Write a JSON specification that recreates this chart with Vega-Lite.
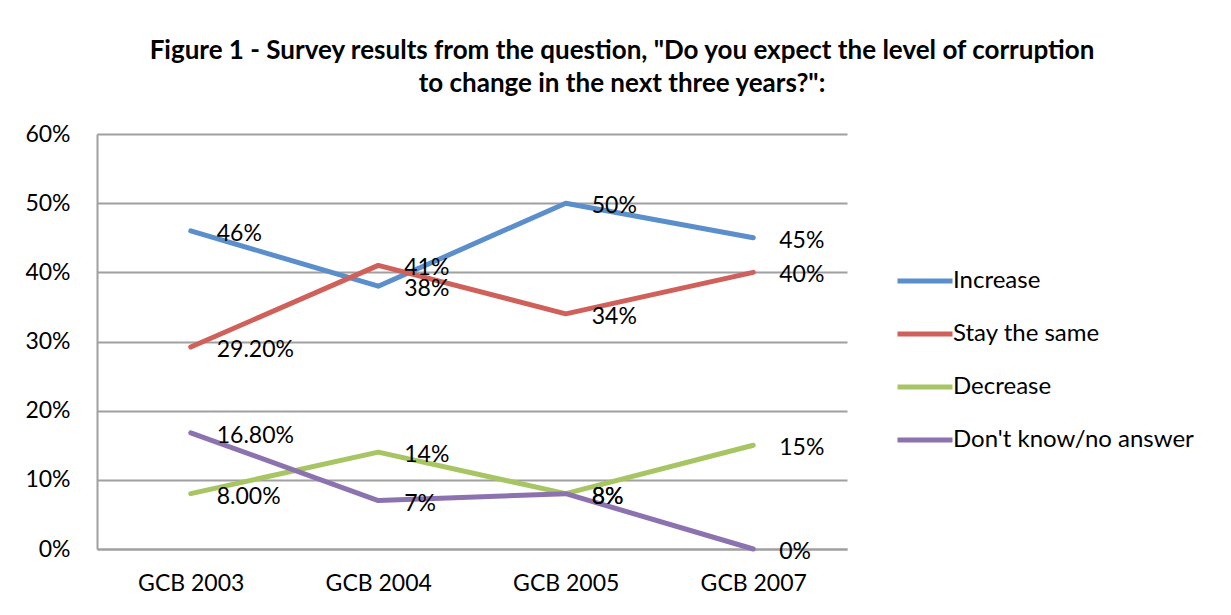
{
  "$schema": "https://vega.github.io/schema/vega-lite/v6.json",
  "width": 750,
  "height": 415,
  "autosize": {"type": "none"},
  "padding": {"left": 97, "top": 134, "right": 384, "bottom": 66},
  "background": "white",
  "title": {
    "text": ["Figure 1 - Survey results from the question, \"Do you expect the level of corruption", "to change in the next three years?\":"],
    "font": "Lato",
    "fontSize": 26,
    "fontWeight": "bold",
    "color": "black",
    "anchor": "middle",
    "frame": "group",
    "dx": 150,
    "offset": 26,
    "lineHeight": 33
  },
  "data": {
    "values": [
      {"series": "Increase", "year": "GCB 2003", "value": 0.46, "label": "46%"},
      {"series": "Increase", "year": "GCB 2004", "value": 0.38, "label": "38%"},
      {"series": "Increase", "year": "GCB 2005", "value": 0.50, "label": "50%"},
      {"series": "Increase", "year": "GCB 2007", "value": 0.45, "label": "45%"},
      {"series": "Stay the same", "year": "GCB 2003", "value": 0.292, "label": "29.20%"},
      {"series": "Stay the same", "year": "GCB 2004", "value": 0.41, "label": "41%"},
      {"series": "Stay the same", "year": "GCB 2005", "value": 0.34, "label": "34%"},
      {"series": "Stay the same", "year": "GCB 2007", "value": 0.40, "label": "40%"},
      {"series": "Decrease", "year": "GCB 2003", "value": 0.08, "label": "8.00%"},
      {"series": "Decrease", "year": "GCB 2004", "value": 0.14, "label": "14%"},
      {"series": "Decrease", "year": "GCB 2005", "value": 0.08, "label": "8%"},
      {"series": "Decrease", "year": "GCB 2007", "value": 0.15, "label": "15%"},
      {"series": "Don't know/no answer", "year": "GCB 2003", "value": 0.168, "label": "16.80%"},
      {"series": "Don't know/no answer", "year": "GCB 2004", "value": 0.07, "label": "7%"},
      {"series": "Don't know/no answer", "year": "GCB 2005", "value": 0.08, "label": "8%"},
      {"series": "Don't know/no answer", "year": "GCB 2007", "value": 0.0, "label": "0%"}
    ]
  },
  "encoding": {
    "x": {
      "field": "year",
      "type": "nominal",
      "sort": null,
      "scale": {"type": "point", "padding": 0.5},
      "axis": {
        "title": null,
        "labelAngle": 0,
        "labelFont": "Lato",
        "labelFontSize": 23,
        "labelColor": "black",
        "labelPadding": 23,
        "ticks": false,
        "domainColor": "#a0a0a0",
        "domainWidth": 2,
        "grid": false
      }
    },
    "y": {
      "field": "value",
      "type": "quantitative",
      "scale": {"domain": [0, 0.6], "nice": false},
      "axis": {
        "title": null,
        "values": [0, 0.1, 0.2, 0.3, 0.4, 0.5, 0.6],
        "format": ".0%",
        "labelFont": "Lato",
        "labelFontSize": 23,
        "labelColor": "black",
        "labelPadding": 27,
        "ticks": false,
        "domainColor": "#a0a0a0",
        "domainWidth": 2,
        "grid": true,
        "gridColor": "#a0a0a0",
        "gridWidth": 2
      }
    }
  },
  "layer": [
    {
      "mark": {"type": "line", "strokeWidth": 5, "strokeCap": "round", "strokeJoin": "round"},
      "encoding": {
        "color": {
          "field": "series",
          "type": "nominal",
          "sort": ["Increase", "Stay the same", "Decrease", "Don't know/no answer"],
          "scale": {
            "domain": ["Increase", "Stay the same", "Decrease", "Don't know/no answer"],
            "range": ["#5b8fcb", "#d0605a", "#a8c563", "#8c73b0"]
          },
          "legend": {
            "title": null,
            "orient": "none",
            "legendX": 798,
            "legendY": 117,
            "symbolType": "stroke",
            "symbolSize": 3025,
            "symbolStrokeWidth": 5,
            "labelFont": "Lato",
            "labelFontSize": 24,
            "labelColor": "black",
            "labelOffset": -2,
            "rowPadding": 11,
            "labelLimit": 400
          }
        }
      }
    },
    {
      "mark": {"type": "text", "align": "left", "baseline": "middle", "dx": 26, "dy": 3, "font": "Lato", "fontSize": 23, "color": "black"},
      "encoding": {"text": {"field": "label", "type": "nominal"}}
    }
  ],
  "config": {"view": {"stroke": null}}
}
